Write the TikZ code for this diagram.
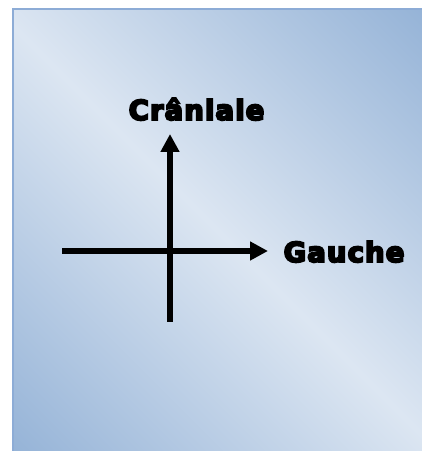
\documentclass[tikz,border=0pt]{standalone}
\usepackage{fontspec}
\usepackage{xcolor}
\usetikzlibrary{arrows.meta}
\newfontfamily\etiqfont{DejaVu Sans Bold}[FakeBold=7, LetterSpace=4]
\definecolor{bleufonce}{RGB}{149,179,215}
\definecolor{bleuclair}{RGB}{220,230,242}
\definecolor{bleubord}{RGB}{141,172,214}
\pgfdeclarehorizontalshading{diagonale}{100bp}{color(0bp)=(bleufonce); color(14.6bp)=(bleufonce); color(50bp)=(bleuclair); color(85.4bp)=(bleufonce); color(100bp)=(bleufonce)}

\begin{document}
\begin{tikzpicture}[x=1bp, y=1bp, >={Triangle[length=18bp,width=18bp]}]
        \tikzset{axelabel/.style={anchor=base, inner sep=0pt, font=\etiqfont\fontsize{27.5bp}{32bp}\selectfont}}
        \useasboundingbox (0,0) rectangle (421,451);

        % Fond degrade
        \shade[shading=diagonale, shading angle=45] (13,-6) rectangle (427,442);
        \draw[bleubord, line width=2bp] (13,-6) -- (13,442) -- (427,442);

        % Axes
        \coordinate (centre) at (170,200);
        \coordinate (gaucheDeb) at (62,200);
        \coordinate (gaucheFin) at (268,200);
        \coordinate (cranDeb) at (170,129);
        \coordinate (cranFin) at (170,317);
        \draw[->, line width=5.5bp] (gaucheDeb) -- (gaucheFin);
        \draw[->, line width=5.5bp] (cranDeb) -- (cranFin);

        % Etiquettes
        \node[axelabel] (craniale) at (196.5,331) {Crâniale};
        \node[axelabel] (gauche) at (344,189) {Gauche};
    \end{tikzpicture}
\end{document}
